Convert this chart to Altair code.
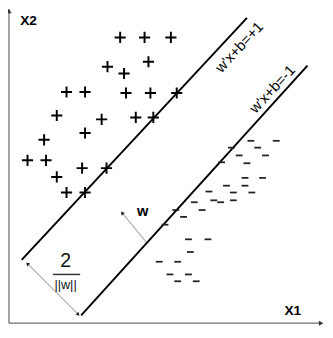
import altair as alt
import pandas as pd

# Class +1 samples (X1, X2)
plus_x1 = [114, 139, 166, 143, 101, 118, 59, 78, 120, 145, 172, 49, 95, 130, 148, 78, 36, 19, 38, 75, 100, 49, 59, 78]
plus_x2 = [293, 293, 293, 268, 263, 256, 237, 237, 236, 236, 236, 213, 209, 211, 211, 195, 188, 167, 167, 159, 159, 150, 134, 134]

# Class -1 samples (X1, X2)
minus_x1 = [248, 274, 228, 255, 236, 263, 218, 244, 242, 260, 223, 242, 205, 230, 249, 190, 210, 217, 230, 171, 198, 179, 160, 184, 204, 186, 154, 173, 165, 184, 173, 192]
minus_x2 = [187, 187, 180, 180, 172, 172, 165, 164, 149, 149, 141, 141, 135, 134, 134, 124, 126, 124, 126, 116, 116, 109, 101, 86, 86, 73, 63, 63, 50, 50, 43, 43]

# Margin hyperplanes: start / end (X1, X2)
plane_names = ["w'x+b=+1", "w'x+b=-1"]
plane_x1_start = [13, 74]
plane_x2_start = [65, 8]
plane_x1_end = [244, 306]
plane_x2_end = [313, 264]

# Axes extent
axis_x1_end = [0, 319]
axis_x2_end = [322, 0]

# Margin width arrow and normal vector w
margin_from = [71, 9]
margin_to = [19, 61]
w_from = [141, 83]
w_to = [116, 113]

# Text annotations
label_pos = {"X2": (20, 310), "X1": (291, 12), "w": (137, 115)}
frac_num = ("2", 58, 64)
frac_den = ("||w||", 58, 39)
frac_bar = (45, 73, 50)
plane_label_pos = [(236, 283), (270, 240)]

XD = [-1, 324]
YD = [-11, 319]
xs = alt.Scale(domain=XD, nice=False, zero=False)
ys = alt.Scale(domain=YD, nice=False, zero=False)

FONT = "Liberation Sans"

plus_df = pd.DataFrame({"x1": plus_x1, "x2": plus_x2})
minus_df = pd.DataFrame({"x1": minus_x1, "x2": minus_x2})
planes_df = pd.DataFrame({"name": plane_names, "x1": plane_x1_start, "x2": plane_x2_start,
                          "x1e": plane_x1_end, "x2e": plane_x2_end})
axes_df = pd.DataFrame({"x1": [0, 0], "x2": [0, 0], "x1e": axis_x1_end, "x2e": axis_x2_end})
axis_heads = pd.DataFrame({"x1": [0, 320], "x2": [320, 0], "ang": [0, 90]})

arrows_df = pd.DataFrame({"x1": [margin_from[0], w_from[0]], "x2": [margin_from[1], w_from[1]],
                          "x1e": [margin_to[0], w_to[0]], "x2e": [margin_to[1], w_to[1]]})
heads_df = pd.DataFrame({"x1": [margin_to[0], margin_from[0], w_to[0]],
                         "x2": [margin_to[1], margin_from[1], w_to[1]],
                         "ang": [315, 135, 320]})

bold_df = pd.DataFrame({"t": list(label_pos.keys()),
                        "x1": [v[0] for v in label_pos.values()],
                        "x2": [v[1] for v in label_pos.values()],
                        "fs": [14, 14, 15]})
num_df = pd.DataFrame({"t": [frac_num[0]], "x1": [frac_num[1]], "x2": [frac_num[2]]})
den_df = pd.DataFrame({"t": [frac_den[0]], "x1": [frac_den[1]], "x2": [frac_den[2]]})
bar_df = pd.DataFrame({"x1": [frac_bar[0]], "x1e": [frac_bar[1]], "x2": [frac_bar[2]]})
plabel_df = pd.DataFrame({"t": plane_names,
                          "x1": [p[0] for p in plane_label_pos],
                          "x2": [p[1] for p in plane_label_pos]})

X = lambda: alt.X("x1:Q", scale=xs, axis=None)
Y = lambda: alt.Y("x2:Q", scale=ys, axis=None)

axes = alt.Chart(axes_df).mark_rule(color="#6e6e6e", strokeWidth=1.3).encode(
    x=X(), y=Y(), x2="x1e:Q", y2="x2e:Q")
axheads = alt.Chart(axis_heads).mark_point(shape="triangle-up", filled=True, size=28,
                                            color="#333333", opacity=1).encode(
    x=X(), y=Y(), angle=alt.Angle("ang:Q", scale=None))

planes = alt.Chart(planes_df).mark_rule(color="#000000", strokeWidth=2).encode(
    x=X(), y=Y(), x2="x1e:Q", y2="x2e:Q")

arrows = alt.Chart(arrows_df).mark_rule(color="#b0b0b0", strokeWidth=1.2).encode(
    x=X(), y=Y(), x2="x1e:Q", y2="x2e:Q")
heads = alt.Chart(heads_df).mark_point(shape="triangle-up", filled=True, size=18,
                                       color="#222222", opacity=1).encode(
    x=X(), y=Y(), angle=alt.Angle("ang:Q", scale=None))

plus = alt.Chart(plus_df).mark_point(shape="M-1,0L1,0M0,-1L0,1", filled=False, size=130,
                                     color="#000000", strokeWidth=2, opacity=1).encode(
    x=X(), y=Y())
minus = alt.Chart(minus_df).mark_point(shape="M-1,0L1,0", filled=False, size=49,
                                       color="#222222", strokeWidth=1.8, opacity=1).encode(
    x=X(), y=Y())

bold_txt = alt.Chart(bold_df).mark_text(font=FONT, fontWeight="bold",
                                        color="#000000", align="center", baseline="middle").encode(
    x=X(), y=Y(), text="t:N", size=alt.Size("fs:Q", scale=None))
num_txt = alt.Chart(num_df).mark_text(font=FONT, fontSize=20, color="#111111",
                                      align="center", baseline="middle").encode(
    x=X(), y=Y(), text="t:N")
den_txt = alt.Chart(den_df).mark_text(font=FONT, fontSize=13, color="#111111",
                                      align="center", baseline="middle").encode(
    x=X(), y=Y(), text="t:N")
bar = alt.Chart(bar_df).mark_rule(color="#333333", strokeWidth=1.5).encode(
    x=X(), y=Y(), x2="x1e:Q")
plabel = alt.Chart(plabel_df).mark_text(font=FONT, fontSize=15, color="#000000", angle=313,
                                        align="center", baseline="middle").encode(
    x=X(), y=Y(), text="t:N")

chart = alt.layer(axes, axheads, arrows, heads, planes, plus, minus,
                  bold_txt, num_txt, den_txt, bar, plabel).properties(
    width=325, height=330, autosize=alt.AutoSizeParams(type="none"), padding=0
).configure_view(stroke=None)

chart.save("out.html", embed_options={"renderer": "svg", "actions": False})
